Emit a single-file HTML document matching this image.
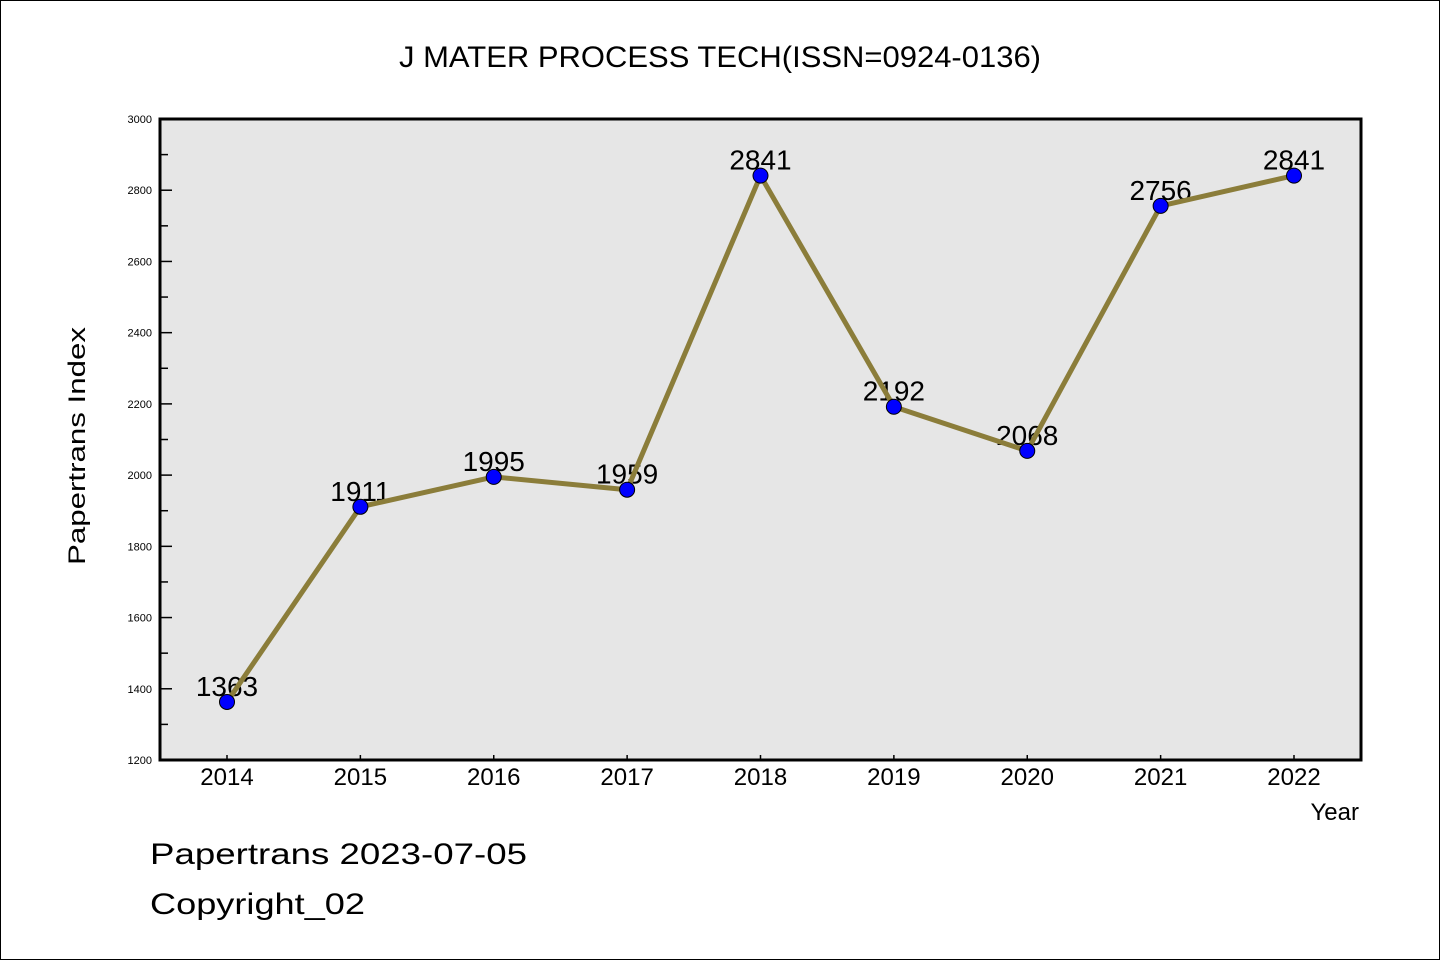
<!DOCTYPE html>
<html><head><meta charset="utf-8"><style>
html,body{margin:0;padding:0;background:#fff}
svg{display:block}
text{font-family:"WenQuanYi Zen Hei","Liberation Sans",sans-serif}
</style></head><body>
<svg id="c" width="1440" height="960" viewBox="0 0 1440 960">
<rect x="0.5" y="0.5" width="1439" height="959" fill="#fff" stroke="#000" stroke-width="1"/>
<text x="720" y="67" text-anchor="middle" font-size="30" textLength="642" lengthAdjust="spacingAndGlyphs">J MATER PROCESS TECH(ISSN=0924-0136)</text>
<rect x="160" y="119" width="1201" height="641" fill="#e6e6e6"/>
<g id="ticks"></g>
<g id="labels"></g>
<g id="series"></g>
<rect x="160" y="119" width="1201" height="641" fill="none" stroke="#000" stroke-width="3"/>
<text transform="translate(85,446) rotate(-90)" text-anchor="middle" font-size="24" textLength="238" lengthAdjust="spacingAndGlyphs">Papertrans Index</text>
<text x="1359" y="820" text-anchor="end" font-size="24">Year</text>
<text x="150" y="864" font-size="30" textLength="377" lengthAdjust="spacingAndGlyphs">Papertrans 2023-07-05</text>
<text x="150" y="914" font-size="30" textLength="215" lengthAdjust="spacingAndGlyphs">Copyright_02</text>
</svg>
<script>
const years=[2014,2015,2016,2017,2018,2019,2020,2021,2022];
const values=[1363,1911,1995,1959,2841,2192,2068,2756,2841];
const yTicks=[1200,1400,1600,1800,2000,2200,2400,2600,2800,3000];
const NS="http://www.w3.org/2000/svg";
const x=i=>227+i*(1294-227)/(years.length-1);
const y=v=>760-(v-1200)*(641/1800);
function mk(tag,attrs,parent){const e=document.createElementNS(NS,tag);for(const k in attrs)e.setAttribute(k,attrs[k]);document.getElementById(parent).appendChild(e);return e;}
yTicks.forEach(t=>{
 const l=mk('line',{x1:160,x2:172,y1:y(t),y2:y(t),stroke:'#000','stroke-width':1.5},'ticks');
 
 
 if(t<3000){const m=mk('line',{x1:160,x2:168,y1:y(t+100),y2:y(t+100),stroke:'#000','stroke-width':1.5},'ticks');
 
 }
 const tx=mk('text',{x:152,y:y(t)+4,'text-anchor':'end','font-size':11},'ticks');
 tx.textContent=t;
 
 
});
years.forEach((yr,i)=>{
 const l=mk('line',{x1:x(i),x2:x(i),y1:755,y2:760,stroke:'#000','stroke-width':1.5},'ticks');
 
 
 const tx=mk('text',{x:x(i),y:785,'text-anchor':'middle','font-size':24},'ticks');
 tx.textContent=yr;
 
 
 const vl=mk('text',{x:x(i),y:y(values[i])-6,'text-anchor':'middle','font-size':28},'labels');
 vl.textContent=values[i];
 
 
});
const pl=mk('polyline',{points:values.map((v,i)=>x(i)+','+y(v)).join(' '),fill:'none',stroke:'#8b7d3a','stroke-width':5,'stroke-linejoin':'round'},'series');


values.forEach((v,i)=>{
 const c=mk('circle',{cx:x(i),cy:y(v),r:7.5,fill:'#0000ff',stroke:'#000','stroke-width':1},'series');
 
 
});
</script>
</body></html>
